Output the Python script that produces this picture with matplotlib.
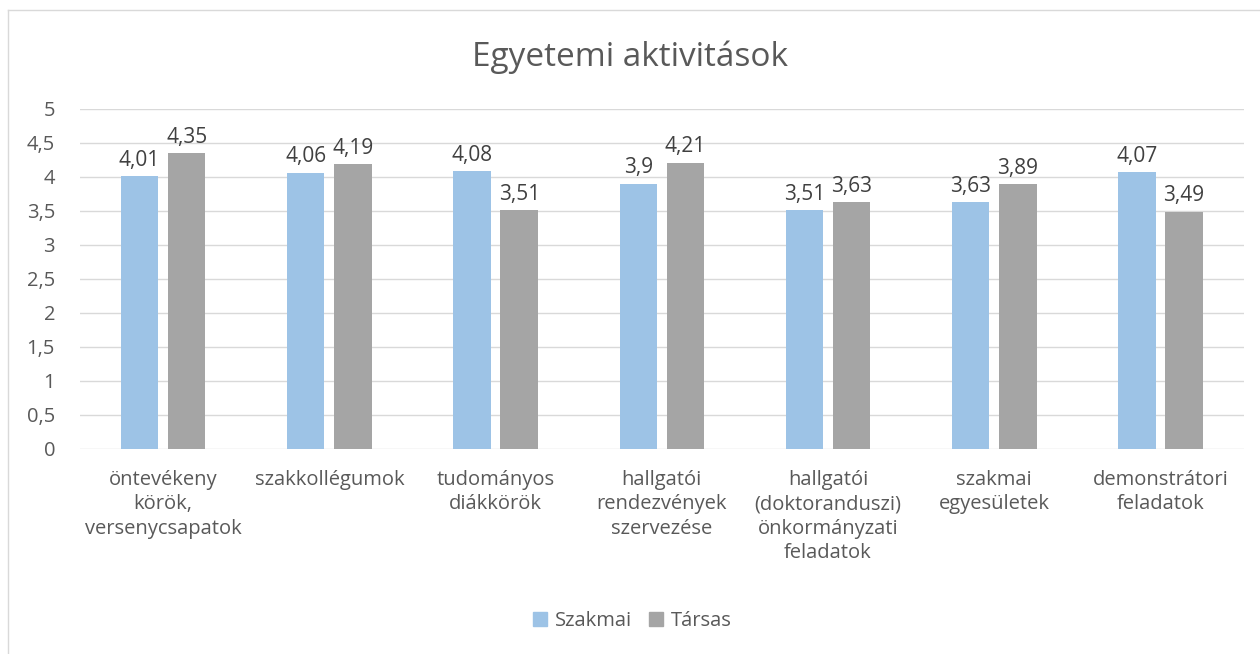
import matplotlib.pyplot as plt
import numpy as np
from matplotlib.lines import Line2D

categories = ["öntevékeny\nkörök,\nversenycsapatok", "szakkollégumok", "tudományos\ndiákkörök",
              "hallgatói\nrendezvények\nszervezése", "hallgatói\n(doktoranduszi)\nönkormányzati\nfeladatok",
              "szakmai\negyesületek", "demonstrátori\nfeladatok"]
szakmai = [4.01, 4.06, 4.08, 3.9, 3.51, 3.63, 4.07]
tarsas = [4.35, 4.19, 3.51, 4.21, 3.63, 3.89, 3.49]
series_names = ["Szakmai", "Társas"]
yticks = [0, 0.5, 1, 1.5, 2, 2.5, 3, 3.5, 4, 4.5, 5]

blue = "#9dc3e6"
gray = "#a5a5a5"
txt = "#595959"

plt.rcParams['font.family'] = ['Open Sans', 'DejaVu Sans']

fig = plt.figure(figsize=(12.6, 6.54), dpi=100)
ax = fig.add_axes([0.0635, 0.3135, 0.9235, 0.52])

x = np.arange(len(categories))
w = 0.225
b1 = ax.bar(x - 0.142, szakmai, w, color=blue, zorder=3)
b2 = ax.bar(x + 0.142, tarsas, w, color=gray, zorder=3)

def fmt(v):
    return ("%g" % v).replace(".", ",")

for bars, vals in ((b1, szakmai), (b2, tarsas)):
    for r, v in zip(bars, vals):
        ax.text(r.get_x() + r.get_width() / 2, v + 0.08, fmt(v), ha="center", va="bottom",
                fontsize=15, color="#404040")

ax.set_xlim(-0.5, len(categories) - 0.5)
ax.set_ylim(0, 5)
ax.set_yticks(yticks)
ax.set_yticklabels([fmt(t) for t in yticks], fontsize=14.5, color=txt)
ax.set_xticks(x)
ax.set_xticklabels(categories, fontsize=14.5, color=txt, linespacing=1.3, va="top")
ax.tick_params(length=0, pad=15)
ax.tick_params(axis="y", pad=18)
ax.grid(axis="y", color="#d9d9d9", linewidth=1, zorder=0)
for s in ax.spines.values():
    s.set_visible(False)

fig.text(0.5, 0.912, "Egyetemi aktivitások", ha="center", va="center", fontsize=24, color=txt)

handles = [Line2D([], [], marker="s", linestyle="", markersize=10, color=c) for c in (blue, gray)]
fig.legend(handles, series_names, loc="center", bbox_to_anchor=(0.5, 0.05), ncol=2, frameon=False,
           fontsize=14.5, labelcolor=txt, handletextpad=0.15, columnspacing=0.6, handlelength=1.2)

# chart border
fig.add_artist(Line2D([8 / 1260, 1.0], [1 - 10 / 654, 1 - 10 / 654], color="#d9d9d9", lw=1))
fig.add_artist(Line2D([8 / 1260, 8 / 1260], [0, 1 - 10 / 654], color="#d9d9d9", lw=1))

fig.savefig("out.png", dpi=100)
